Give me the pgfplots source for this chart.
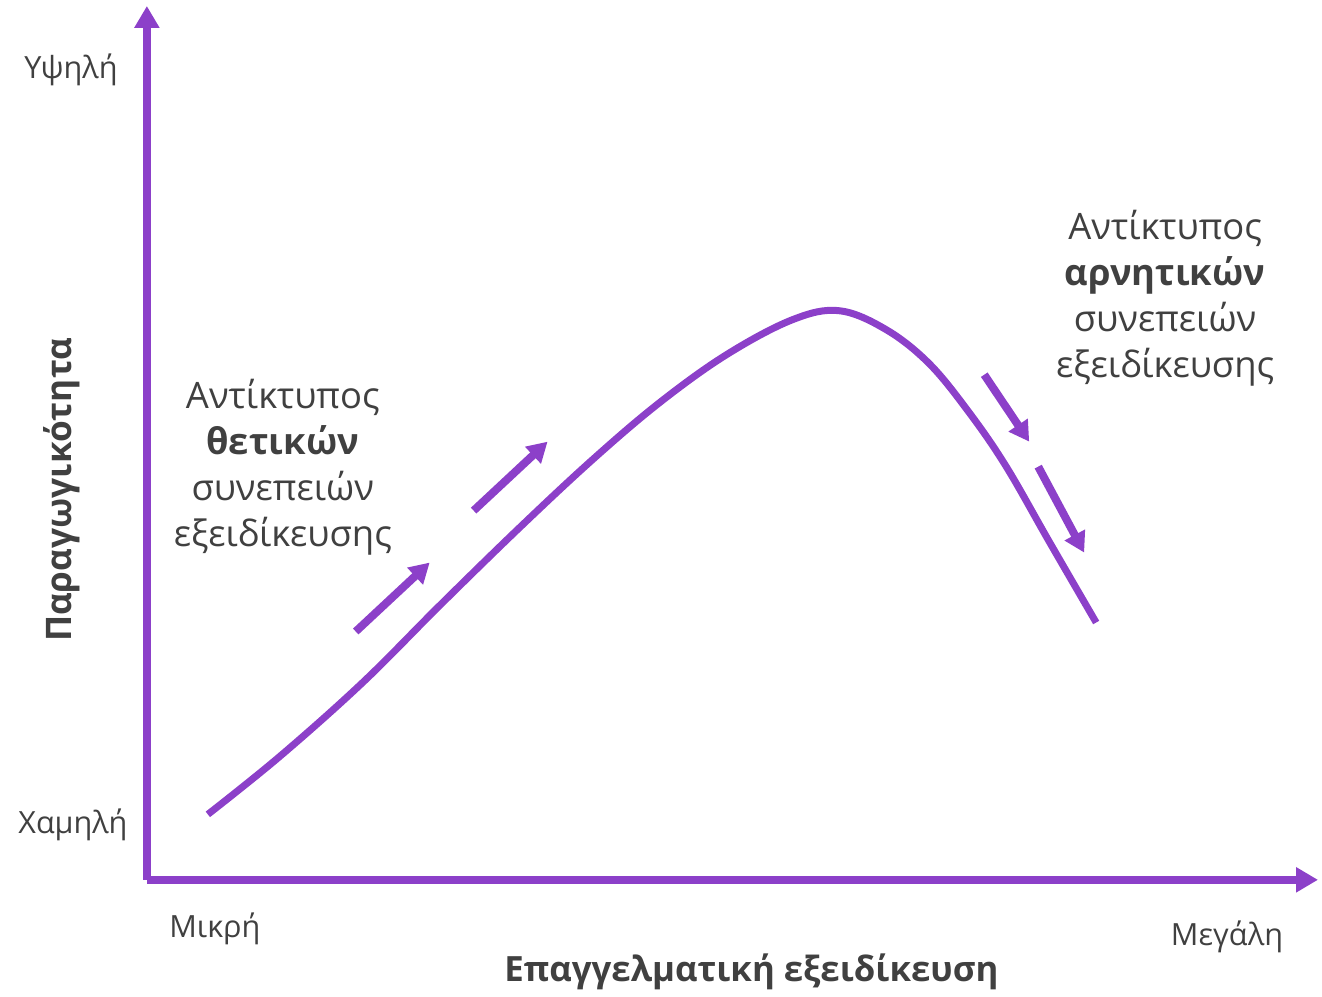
\documentclass[border=0pt]{standalone}
\usepackage{fontspec}
\setmainfont{Open Sans}
\usepackage{pgfplots}
\pgfplotsset{compat=1.18}
\usetikzlibrary{arrows.meta}
\definecolor{vio}{HTML}{8C40C9}
\definecolor{txt}{HTML}{404040}
\begin{document}
\begin{tikzpicture}
\begin{axis}[
  scale only axis,
  width=586pt, height=437.25pt,
  xmin=147, xmax=1319, ymin=116.5, ymax=991,
  axis lines=left,
  x axis line style={vio, line width=4pt, -{Triangle[width=12pt,length=11pt]}},
  y axis line style={vio, line width=4pt, -{Triangle[width=12pt,length=11pt]}},
  xtick=\empty, ytick=\empty,
  clip=false,
]
\path (axis cs:0,0) rectangle (axis cs:1322,997);
% curve (y = 997 - pixel y)
\addplot[vio, line width=3.5pt, smooth, tension=0.6] coordinates {
(208,182) (280,240) (363,314) (440,391) (520,469) (593,537) (660,594)
(727,642) (793,677) (840,686) (887,667) (930,633) (970,584) (1007,530)
(1050,455) (1097,374)
};
% arrows
\addplot[vio, line width=4pt, -{Triangle[width=11pt,length=10pt]}] coordinates {(356,365) (430,434)};
\addplot[vio, line width=4pt, -{Triangle[width=11pt,length=10pt]}] coordinates {(474,486) (548,555)};
\addplot[vio, line width=4pt, -{Triangle[width=11pt,length=10pt]}] coordinates {(985,622) (1030,555)};
\addplot[vio, line width=4pt, -{Triangle[width=11pt,length=10pt]}] coordinates {(1039,530) (1085,444)};
% labels
\node[txt, font=\fontsize{15.3}{18}\selectfont] at (axis cs:71,927) {Υψηλή};
\node[txt, font=\fontsize{15.3}{18}\selectfont] at (axis cs:73,172) {Χαμηλή};
\node[txt, font=\fontsize{15.3}{18}\selectfont] at (axis cs:215,67) {Μικρή};
\node[txt, font=\fontsize{15.3}{18}\selectfont] at (axis cs:1228,59) {Μεγάλη};
\node[txt, font=\fontsize{17.4}{20}\selectfont\bfseries] at (axis cs:752,24) {Επαγγελματική εξειδίκευση};
\node[txt, rotate=90, font=\fontsize{17.6}{20}\selectfont\bfseries] at (axis cs:62,507) {Παραγωγικότητα};
\node[txt, align=center, font=\fontsize{18.2}{23}\selectfont] at (axis cs:283,529.5)
  {Αντίκτυπος\\\textbf{θετικών}\\συνεπειών\\εξειδίκευσης};
\node[txt, align=center, font=\fontsize{18.2}{23}\selectfont] at (axis cs:1166,699)
  {Αντίκτυπος\\\textbf{αρνητικών}\\συνεπειών\\εξειδίκευσης};
\end{axis}
\end{tikzpicture}
\end{document}
